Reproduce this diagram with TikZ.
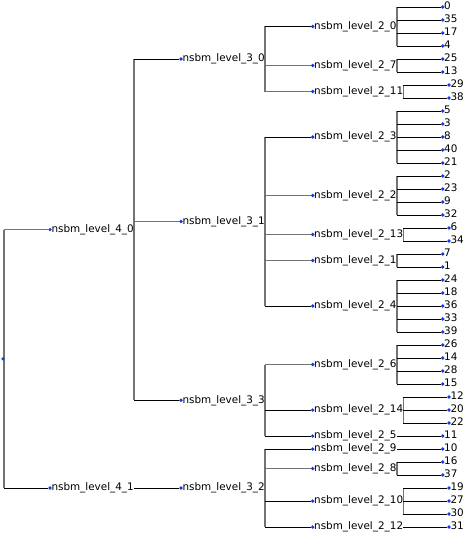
\documentclass[tikz,border=0pt]{standalone}
\usepackage{fontspec}
\setmainfont{DejaVu Sans}
\definecolor{dotblue}{RGB}{25,55,225}
\definecolor{vgray}{RGB}{115,115,115}
\newcommand\mynd[4]{\node[dotn] (#1) at (#2,#3) {};\node[lab] (#1t) at (#1.center) {#4};}
\newcommand\kid[3]{\draw[#1] (#2t.east |- #3) -- (#3.west);}
\newcommand\vl[3]{\draw[vline] (#1t.east |- #2) -- (#1t.east |- #3);}
\begin{document}
\begin{tikzpicture}[x=1pt,y=-1pt,
  dotn/.style={circle,fill=dotblue,inner sep=0pt,minimum size=3.6pt},
  lab/.style={anchor=west,inner sep=0pt,xshift=1.3pt,font=\fontsize{10.4}{12}\selectfont,text height=7.6pt,text depth=2pt},
  vline/.style={draw=vgray,line width=1.6pt},
  hk/.style={draw=black,line width=0.9pt},
  hg/.style={draw=vgray,line width=1.6pt}]
\useasboundingbox (0,0) rectangle (465,535);
% level 4
\mynd{a40}{50}{229.6}{nsbm\_level\_4\_0}
\mynd{a41}{50}{488}{nsbm\_level\_4\_1}
% level 3
\mynd{a30}{181}{59}{nsbm\_level\_3\_0}
\mynd{a31}{181}{221.5}{nsbm\_level\_3\_1}
\mynd{a33}{181}{400.25}{nsbm\_level\_3\_3}
\mynd{a32}{181}{488}{nsbm\_level\_3\_2}
% level 2
\mynd{a20}{312.7}{26.5}{nsbm\_level\_2\_0}
\mynd{a27}{312.7}{65.5}{nsbm\_level\_2\_7}
\mynd{a211}{312.7}{91.5}{nsbm\_level\_2\_11}
\mynd{a23}{312.7}{137}{nsbm\_level\_2\_3}
\mynd{a22}{312.7}{195.5}{nsbm\_level\_2\_2}
\mynd{a213}{312.7}{234.5}{nsbm\_level\_2\_13}
\mynd{a21}{312.7}{260.5}{nsbm\_level\_2\_1}
\mynd{a24}{312.7}{306}{nsbm\_level\_2\_4}
\mynd{a26}{312.7}{364.5}{nsbm\_level\_2\_6}
\mynd{a214}{312.7}{410}{nsbm\_level\_2\_14}
\mynd{a25}{312.7}{436}{nsbm\_level\_2\_5}
\mynd{a29}{312.7}{449}{nsbm\_level\_2\_9}
\mynd{a28}{312.7}{468.5}{nsbm\_level\_2\_8}
\mynd{a210}{312.7}{501}{nsbm\_level\_2\_10}
\mynd{a212}{312.7}{527}{nsbm\_level\_2\_12}
% leaves
\mynd{l0}{442.7}{7}{0}
\mynd{l35}{442.7}{20}{35}
\mynd{l17}{442.7}{33}{17}
\mynd{l4}{442.7}{46}{4}
\mynd{l25}{442.7}{59}{25}
\mynd{l13}{442.7}{72}{13}
\mynd{l29}{449}{85}{29}
\mynd{l38}{449}{98}{38}
\mynd{l5}{442.7}{111}{5}
\mynd{l3}{442.7}{124}{3}
\mynd{l8}{442.7}{137}{8}
\mynd{l40}{442.7}{150}{40}
\mynd{l21}{442.7}{163}{21}
\mynd{l2}{442.7}{176}{2}
\mynd{l23}{442.7}{189}{23}
\mynd{l9}{442.7}{202}{9}
\mynd{l32}{442.7}{215}{32}
\mynd{l6}{449}{228}{6}
\mynd{l34}{449}{241}{34}
\mynd{l7}{442.7}{254}{7}
\mynd{l1}{442.7}{267}{1}
\mynd{l24}{442.7}{280}{24}
\mynd{l18}{442.7}{293}{18}
\mynd{l36}{442.7}{306}{36}
\mynd{l33}{442.7}{319}{33}
\mynd{l39}{442.7}{332}{39}
\mynd{l26}{442.7}{345}{26}
\mynd{l14}{442.7}{358}{14}
\mynd{l28}{442.7}{371}{28}
\mynd{l15}{442.7}{384}{15}
\mynd{l12}{449}{397}{12}
\mynd{l20}{449}{410}{20}
\mynd{l22}{449}{423}{22}
\mynd{l11}{442.7}{436}{11}
\mynd{l10}{442.7}{449}{10}
\mynd{l16}{442.7}{462}{16}
\mynd{l37}{442.7}{475}{37}
\mynd{l19}{449}{488}{19}
\mynd{l27}{449}{501}{27}
\mynd{l30}{449}{514}{30}
\mynd{l31}{449}{527}{31}
% root
\coordinate (rootv) at (4,358.8);
\draw[vline] (rootv |- a40) -- (rootv |- a41);
\draw[hg] (rootv |- a40) -- (a40.west);
\draw[hk] (rootv |- a41) -- (a41.west);
\node[dotn] (root) at (3,358.8) {};
% level 4 -> 3
\vl{a40}{a30}{a33}
\kid{hk}{a40}{a30}\kid{hg}{a40}{a31}\kid{hk}{a40}{a33}
\kid{hk}{a41}{a32}
% level 3 -> 2
\vl{a30}{a20}{a211}
\kid{hk}{a30}{a20}\kid{hg}{a30}{a27}\kid{hg}{a30}{a211}
\vl{a31}{a23}{a24}
\kid{hk}{a31}{a23}\kid{hg}{a31}{a22}\kid{hg}{a31}{a213}\kid{hg}{a31}{a21}\kid{hk}{a31}{a24}
\vl{a33}{a26}{a25}
\kid{hg}{a33}{a26}\kid{hk}{a33}{a214}\kid{hk}{a33}{a25}
\vl{a32}{a29}{a212}
\kid{hk}{a32}{a29}\kid{hg}{a32}{a28}\kid{hk}{a32}{a210}\kid{hk}{a32}{a212}
% level 2 -> leaves
\vl{a20}{l0}{l4}
\kid{hk}{a20}{l0}\kid{hk}{a20}{l35}\kid{hk}{a20}{l17}\kid{hk}{a20}{l4}
\vl{a27}{l25}{l13}
\kid{hk}{a27}{l25}\kid{hk}{a27}{l13}
\vl{a211}{l29}{l38}
\kid{hk}{a211}{l29}\kid{hk}{a211}{l38}
\vl{a23}{l5}{l21}
\kid{hk}{a23}{l5}\kid{hk}{a23}{l3}\kid{hk}{a23}{l8}\kid{hk}{a23}{l40}\kid{hk}{a23}{l21}
\vl{a22}{l2}{l32}
\kid{hk}{a22}{l2}\kid{hk}{a22}{l23}\kid{hk}{a22}{l9}\kid{hk}{a22}{l32}
\vl{a213}{l6}{l34}
\kid{hk}{a213}{l6}\kid{hk}{a213}{l34}
\vl{a21}{l7}{l1}
\kid{hk}{a21}{l7}\kid{hk}{a21}{l1}
\vl{a24}{l24}{l39}
\kid{hk}{a24}{l24}\kid{hk}{a24}{l18}\kid{hk}{a24}{l36}\kid{hk}{a24}{l33}\kid{hk}{a24}{l39}
\vl{a26}{l26}{l15}
\kid{hk}{a26}{l26}\kid{hk}{a26}{l14}\kid{hk}{a26}{l28}\kid{hk}{a26}{l15}
\vl{a214}{l12}{l22}
\kid{hk}{a214}{l12}\kid{hk}{a214}{l20}\kid{hk}{a214}{l22}
\kid{hk}{a25}{l11}
\kid{hk}{a29}{l10}
\vl{a28}{l16}{l37}
\kid{hk}{a28}{l16}\kid{hk}{a28}{l37}
\vl{a210}{l19}{l30}
\kid{hk}{a210}{l19}\kid{hk}{a210}{l27}\kid{hk}{a210}{l30}
\kid{hk}{a212}{l31}
\end{tikzpicture}
\end{document}
